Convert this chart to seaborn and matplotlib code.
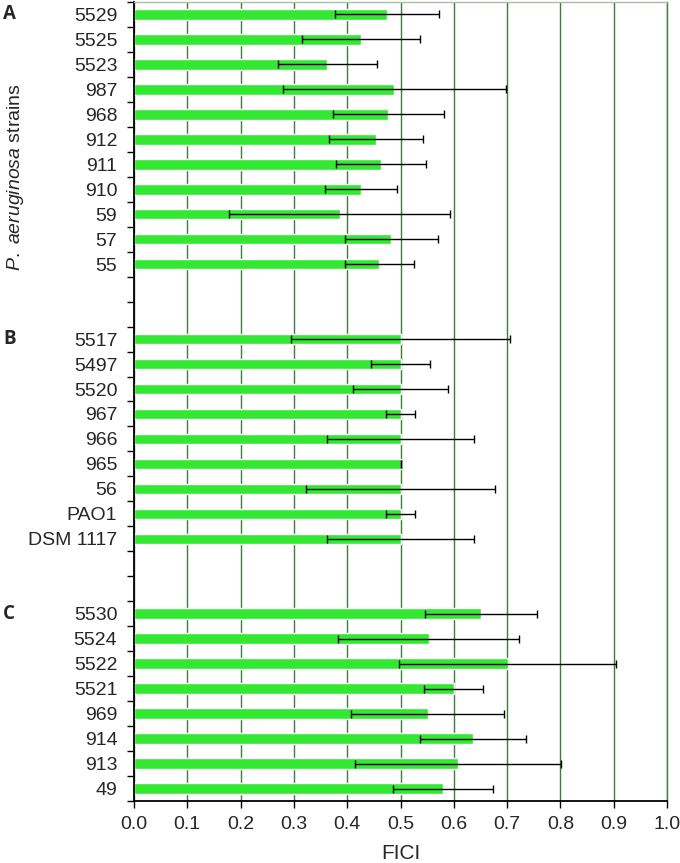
import pandas as pd
import matplotlib.pyplot as plt
import seaborn as sns
from matplotlib.transforms import blended_transform_factory

# strains per group (top to bottom)
strains_a = ["5529", "5525", "5523", "987", "968", "912", "911", "910", "59", "57", "55"]
fici_a = [0.475, 0.426, 0.363, 0.488, 0.477, 0.454, 0.463, 0.426, 0.386, 0.483, 0.460]
sd_a = [0.097, 0.111, 0.093, 0.209, 0.104, 0.088, 0.084, 0.068, 0.207, 0.087, 0.065]

strains_b = ["5517", "5497", "5520", "967", "966", "965", "56", "PAO1", "DSM 1117"]
fici_b = [0.5, 0.5, 0.5, 0.5, 0.5, 0.5, 0.5, 0.5, 0.5]
sd_b = [0.206, 0.056, 0.089, 0.028, 0.138, 0.0, 0.177, 0.028, 0.138]

strains_c = ["5530", "5524", "5522", "5521", "969", "914", "913", "49"]
fici_c = [0.651, 0.553, 0.701, 0.600, 0.551, 0.636, 0.608, 0.580]
sd_c = [0.105, 0.170, 0.204, 0.055, 0.143, 0.100, 0.194, 0.094]

group_labels = ["A", "B", "C"]
x_ticks = [0.0, 0.1, 0.2, 0.3, 0.4, 0.5, 0.6, 0.7, 0.8, 0.9, 1.0]

df = pd.DataFrame({
    "strain": strains_a + strains_b + strains_c,
    "fici": fici_a + fici_b + fici_c,
    "sd": sd_a + sd_b + sd_c,
})

# empty slots between groups
order = strains_a + ["_gap1", "_gap2"] + strains_b + ["_gap3", "_gap4"] + strains_c
pos = {s: i for i, s in enumerate(order)}

sns.set_style("white")
plt.rcParams["font.family"] = ["Liberation Sans", "DejaVu Sans"]
plt.rcParams["mathtext.fontset"] = "custom"
plt.rcParams["mathtext.it"] = "Liberation Sans:italic"
plt.rcParams["mathtext.rm"] = "Liberation Sans"

fig = plt.figure(figsize=(6.8, 8.63), dpi=100)
ax = fig.add_axes([134 / 680, 62 / 863, 533 / 680, 799 / 863])

sns.barplot(data=df, x="fici", y="strain", order=order, orient="h",
            color="#33e833", saturation=1, width=0.42, errorbar=None, ax=ax)

ypos = [pos[s] for s in df["strain"]]
ax.errorbar(df["fici"], ypos, xerr=df["sd"], fmt="none", ecolor="black",
            elinewidth=1, capsize=3, capthick=1, zorder=4)

ax.set_xlim(0, 1.0)
ax.set_ylim(len(order) - 0.5, -0.5)
ax.set_xticks(x_ticks)
ax.set_xticklabels([f"{v:.1f}" for v in x_ticks], fontsize=14)
ax.set_yticks(range(len(order)))
ax.set_yticklabels(["" if s.startswith("_gap") else s for s in order], fontsize=14)
ax.set_yticks([i - 0.5 for i in range(len(order) + 1)], minor=True)
ax.tick_params(axis="y", which="major", length=0, pad=12)
ax.tick_params(axis="y", which="minor", left=True, length=5, width=1, color="black")
ax.tick_params(axis="x", which="major", bottom=True, length=5, width=1, color="black", pad=6)

ax.set_axisbelow(True)
ax.grid(axis="x", color="#3f7a3f", linewidth=1)
ax.grid(axis="y", visible=False)

for side in ["left", "bottom"]:
    ax.spines[side].set_color("black")
    ax.spines[side].set_linewidth(1.3)
ax.spines["top"].set_color("#a8c0a8")
ax.spines["top"].set_linewidth(1)
ax.spines["right"].set_color("#3f7a3f")
ax.spines["right"].set_linewidth(1)

ax.set_xlabel("FICI", fontsize=15, labelpad=8)
ax.set_ylabel("")
fig.text(16 / 680, 1 - 177 / 863, r"$\mathit{P.}$ $\mathit{aeruginosa}$ strains",
         rotation=90, ha="center", va="center", fontsize=14)

trans = blended_transform_factory(fig.transFigure, ax.transData)
for lab, first in zip(group_labels, [strains_a[0], strains_b[0], strains_c[0]]):
    ax.text(3 / 680, pos[first], lab, transform=trans, ha="left", va="center",
            fontsize=13.5, fontweight="bold", family=["Open Sans", "DejaVu Sans"])

fig.savefig("out.png", dpi=100)
